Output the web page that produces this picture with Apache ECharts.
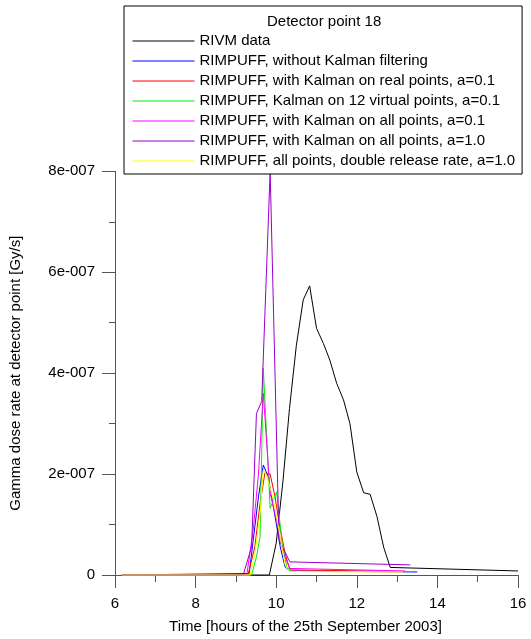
<!DOCTYPE html>
<html>
<head>
<meta charset="utf-8">
<script src="https://cdn.jsdelivr.net/npm/echarts@6/dist/echarts.min.js"></script>
<style>html,body{margin:0;padding:0;background:#fff}#c{width:531px;height:639px}</style>
</head>
<body>
<div id="c"></div>
<script>
// values in units of 1e-7 Gy/s, time in hours
const seriesNames = [
  'RIVM data',
  'RIMPUFF, without Kalman filtering',
  'RIMPUFF, with Kalman on real points, a=0.1',
  'RIMPUFF, Kalman on 12 virtual points, a=0.1',
  'RIMPUFF, with Kalman on all points, a=0.1',
  'RIMPUFF, with Kalman on all points, a=1.0',
  'RIMPUFF, all points, double release rate, a=1.0'
];
const rivmT = [6.17, 9.83, 10.0, 10.17, 10.33, 10.5, 10.67, 10.83, 11.0, 11.17, 11.33, 11.5, 11.67, 11.83, 12.0, 12.17, 12.33, 12.5, 12.67, 12.83, 16.0];
const rivmV = [0, 0, 0.63, 1.88, 3.3, 4.55, 5.45, 5.73, 4.89, 4.59, 4.26, 3.8, 3.47, 3.0, 2.04, 1.63, 1.6, 1.16, 0.54, 0.15, 0.08];
const noKalT = [6.17, 9.33, 9.43, 9.56, 9.68, 9.8, 9.93, 10.1, 10.22, 10.34, 13.5];
const noKalV = [0, 0.03, 0.69, 1.55, 2.18, 1.95, 1.35, 0.56, 0.16, 0.08, 0.06];
const realT = [6.17, 9.3, 9.47, 9.6, 9.72, 9.85, 9.97, 10.09, 10.22, 10.34, 13.2];
const realV = [0, 0, 0.56, 1.42, 2.02, 2.0, 1.55, 0.96, 0.43, 0.1, 0.07];
const virtT = [6.17, 9.39, 9.51, 9.6, 9.68, 9.85, 10.01, 10.14, 10.26, 10.38, 13.45];
const virtV = [0, 0, 0.36, 0.76, 4.1, 1.32, 1.65, 0.69, 0.16, 0.07, 0.07];
const all01T = [6.17, 9.27, 9.43, 9.56, 9.68, 9.85, 10.01, 10.18, 10.34, 13.2];
const all01V = [0, 0, 0.9, 2.0, 3.6, 1.62, 1.09, 0.43, 0.13, 0.08];
const all10T = [6.17, 9.18, 9.39, 9.51, 9.64, 9.85, 10.07, 10.34, 13.33];
const all10V = [0, 0, 0.56, 3.2, 3.44, 8.0, 0.69, 0.26, 0.2];
const dblT = [6.17, 9.35, 9.47, 9.6, 9.68, 9.76, 9.93, 10.1, 10.22, 10.34, 13.15];
const dblV = [0, 0, 0.4, 1.22, 2.08, 1.98, 1.49, 0.76, 0.2, 0.07, 0.06];

const colors = ['#000000', '#0000ff', '#ff0000', '#00ee00', '#ff00ff', '#9900cc', '#ffff00'];
const ts = [rivmT, noKalT, realT, virtT, all01T, all10T, dblT];
const vs = [rivmV, noKalV, realV, virtV, all01V, all10V, dblV];

const FONT = 'Liberation Sans, Arial, sans-serif';
const chart = echarts.init(document.getElementById('c'), null, {renderer: 'canvas'});
const series = seriesNames.map((n, i) => ({
  name: n,
  type: 'line',
  symbol: 'none',
  showSymbol: false,
  clip: false,
  lineStyle: {color: colors[i], width: 1},
  itemStyle: {color: colors[i]},
  emphasis: {disabled: true},
  data: ts[i].map((t, k) => [t, vs[i][k]])
}));

chart.setOption({
  animation: false,
  backgroundColor: '#ffffff',
  title: {
    text: 'Detector point 18',
    left: 267, top: 14, padding: 0, z: 20,
    textStyle: {fontFamily: FONT, fontSize: 15, fontWeight: 'normal', color: '#000', lineHeight: 15}
  },
  legend: {
    show: true,
    orient: 'vertical',
    left: 124, top: 6,
    padding: [25, 7, 3, 8],
    itemGap: 0,
    itemWidth: 62, itemHeight: 14,
    borderColor: '#000', borderWidth: 1,
    backgroundColor: '#fff',
    z: 10,
    selectedMode: false,
    itemStyle: {opacity: 0, borderWidth: 0},
    lineStyle: {width: 1},
    textStyle: {fontFamily: FONT, fontSize: 15, color: '#000', lineHeight: 20},
    data: seriesNames
  },
  grid: {left: 115, right: 13, top: 171.3, bottom: 64, containLabel: false},
  xAxis: {
    type: 'value', min: 6, max: 16, interval: 2,
    name: 'Time [hours of the 25th September 2003]',
    nameLocation: 'middle', nameGap: 44,
    nameTextStyle: {fontFamily: FONT, fontSize: 15, color: '#000', padding: [0, 22, 0, 0]},
    axisLine: {show: true, onZero: false, lineStyle: {color: '#555', width: 1}},
    axisTick: {show: true, length: 13, lineStyle: {color: '#555'}},
    minorTick: {show: true, splitNumber: 2, length: 7, lineStyle: {color: '#555'}},
    splitLine: {show: false},
    axisLabel: {margin: 21, fontFamily: FONT, fontSize: 15, color: '#000'}
  },
  yAxis: {
    type: 'value', min: 0, max: 8, interval: 2,
    name: 'Gamma dose rate at detector point [Gy/s]',
    nameLocation: 'middle', nameGap: 92,
    nameTextStyle: {fontFamily: FONT, fontSize: 15, color: '#000'},
    axisLine: {show: true, lineStyle: {color: '#555', width: 1}},
    axisTick: {show: true, length: 13, lineStyle: {color: '#555'}},
    minorTick: {show: true, splitNumber: 2, length: 6, lineStyle: {color: '#555'}},
    splitLine: {show: false},
    axisLabel: {margin: 20, fontFamily: FONT, fontSize: 15, color: '#000',
      formatter: v => v === 0 ? '0' : v + 'e-007'}
  },
  series: series
});
</script>
</body>
</html>
